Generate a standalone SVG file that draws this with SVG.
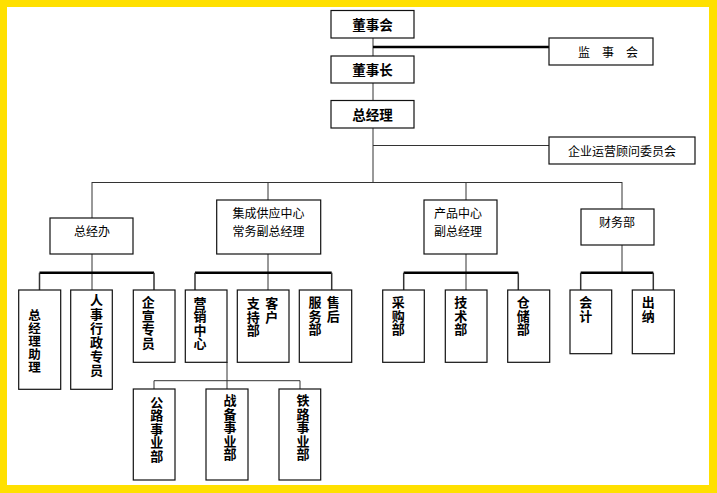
<svg xmlns="http://www.w3.org/2000/svg" width="717" height="493" viewBox="0 0 717 493">
<style>
.bx{fill:#fff;stroke:#111;stroke-width:1.2}
.t{font-family:"Liberation Sans","Noto Sans CJK SC",sans-serif;font-size:12px;fill:#000;dominant-baseline:central}
.tb{font-family:"Liberation Sans","Noto Sans CJK SC",sans-serif;font-size:13.5px;font-weight:bold;fill:#000;dominant-baseline:central;text-anchor:middle}
.v{font-family:"Liberation Sans","Noto Sans CJK SC",sans-serif;font-size:13px;font-weight:bold;fill:#000;dominant-baseline:central;text-anchor:middle}
.ln{fill:none;stroke:#333;stroke-width:1}
.th{fill:none;stroke:#000;stroke-width:2.5}
.dr{fill:none;stroke:#333;stroke-width:1.5}
</style>
<rect x="0" y="0" width="717" height="493" fill="#FFE000"/>
<rect x="7" y="7" width="702" height="478" fill="#fff"/>
<g id="connectors">
<path class="ln" d="M373 38V182"/>
<path class="th" d="M373 47H549"/>
<path class="ln" d="M373 145.5H549"/>
<path class="ln" d="M92 182.5H622"/>
<path class="ln" d="M92 182V218M268 182V200M466 182V200M622 182V209"/>
<path class="ln" d="M92 254V290M268 254V290M466 254V290M622 245V273"/>
<path class="th" d="M39.5 272.7H154M195 272.7H331.7M403.7 272.7H518.3M580.7 272.7H653.3"/>
<path class="dr" d="M39.5 272.7V290M154 272.7V290M195 272.7V290M331.7 272.7V290M403.7 272.7V290M518.3 272.7V290M580.7 272.7V290M653.3 272.7V290"/>
<path class="ln" d="M227 362V389M154 389V380.7H300V389"/>
</g>
<g id="dongshihui"><rect class="bx" x="331" y="10.5" width="83" height="27.5"/><text class="tb" x="372.5" y="25.5">董事会</text></g>
<g id="jianshihui"><rect class="bx" x="549" y="38" width="104" height="27"/><text class="t" y="52.5" text-anchor="middle"><tspan x="584">监</tspan><tspan x="608">事</tspan><tspan x="632">会</tspan></text></g>
<g id="dongshizhang"><rect class="bx" x="331" y="56" width="83" height="27"/><text class="tb" x="372.5" y="70.5">董事长</text></g>
<g id="zongjingli"><rect class="bx" x="331" y="100.5" width="83" height="27.5"/><text class="tb" x="372.5" y="115.5">总经理</text></g>
<g id="guwen"><rect class="bx" x="549" y="137" width="146" height="27"/><text class="t" x="622" y="151.7" text-anchor="middle">企业运营顾问委员会</text></g>
<g id="zongjingban"><rect class="bx" x="50" y="218" width="83" height="36"/><text class="t" x="92" y="231.7" text-anchor="middle">总经办</text></g>
<g id="jicheng"><rect class="bx" x="216.7" y="200" width="104" height="54"/><text class="t" x="268.5" y="214" text-anchor="middle">集成供应中心</text><text class="t" x="268.5" y="231.7" text-anchor="middle">常务副总经理</text></g>
<g id="chanpin"><rect class="bx" x="424" y="200" width="73" height="54"/><text class="t" x="434" y="214.3">产品中心</text><text class="t" x="434" y="232.3">副总经理</text></g>
<g id="caiwu"><rect class="bx" x="581" y="209" width="73" height="36"/><text class="t" x="617" y="222.7" text-anchor="middle">财务部</text></g>
<g id="zhuli"><rect class="bx" x="18.7" y="290" width="42" height="99.3"/><text class="v" style="font-size:12.5px"><tspan x="34.5" y="316">总</tspan><tspan x="34.5" y="329">经</tspan><tspan x="34.5" y="342">理</tspan><tspan x="34.5" y="355">助</tspan><tspan x="34.5" y="368">理</tspan></text></g>
<g id="renshi"><rect class="bx" x="70.7" y="290" width="41.6" height="99.3"/><text class="v"><tspan x="96.5" y="300">人</tspan><tspan x="96.5" y="314">事</tspan><tspan x="96.5" y="328">行</tspan><tspan x="96.5" y="342">政</tspan><tspan x="96.5" y="356">专</tspan><tspan x="96.5" y="370">员</tspan></text></g>
<g id="qixuan"><rect class="bx" x="133.3" y="290" width="41.7" height="72.3"/><text class="v"><tspan x="148.3" y="302">企</tspan><tspan x="148.3" y="315.7">宣</tspan><tspan x="148.3" y="329.4">专</tspan><tspan x="148.3" y="343">员</tspan></text></g>
<g id="yingxiao"><rect class="bx" x="185.3" y="290" width="41.7" height="72.3"/><text class="v"><tspan x="200" y="302.5">营</tspan><tspan x="200" y="316">销</tspan><tspan x="200" y="329.5">中</tspan><tspan x="200" y="343">心</tspan></text></g>
<g id="kehu"><rect class="bx" x="237.3" y="290" width="51.7" height="72.3"/><text class="v"><tspan x="271.7" y="303">客</tspan><tspan x="271.7" y="316.5">户</tspan><tspan x="253.3" y="303">支</tspan><tspan x="253.3" y="316.5">持</tspan><tspan x="253.3" y="330">部</tspan></text></g>
<g id="shouhou"><rect class="bx" x="299.3" y="290" width="52.4" height="72.3"/><text class="v"><tspan x="333.3" y="302">售</tspan><tspan x="333.3" y="315.5">后</tspan><tspan x="315" y="302">服</tspan><tspan x="315" y="315.5">务</tspan><tspan x="315" y="329">部</tspan></text></g>
<g id="gonglu"><rect class="bx" x="133.3" y="389" width="41.7" height="91"/><text class="v"><tspan x="156.7" y="401.5">公</tspan><tspan x="156.7" y="415">路</tspan><tspan x="156.7" y="428.5">事</tspan><tspan x="156.7" y="442">业</tspan><tspan x="156.7" y="455.5">部</tspan></text></g>
<g id="zhanbei"><rect class="bx" x="206" y="389" width="42" height="91"/><text class="v"><tspan x="230" y="400">战</tspan><tspan x="230" y="413.5">备</tspan><tspan x="230" y="427">事</tspan><tspan x="230" y="440.5">业</tspan><tspan x="230" y="454">部</tspan></text></g>
<g id="tielu"><rect class="bx" x="279" y="389" width="41.7" height="91"/><text class="v"><tspan x="303" y="400">铁</tspan><tspan x="303" y="413.5">路</tspan><tspan x="303" y="427">事</tspan><tspan x="303" y="440.5">业</tspan><tspan x="303" y="454">部</tspan></text></g>
<g id="caigou"><rect class="bx" x="382.7" y="290" width="41.6" height="72.3"/><text class="v"><tspan x="398.3" y="302">采</tspan><tspan x="398.3" y="315.5">购</tspan><tspan x="398.3" y="329">部</tspan></text></g>
<g id="jishu"><rect class="bx" x="445.3" y="290" width="41.7" height="72.3"/><text class="v"><tspan x="460.7" y="302">技</tspan><tspan x="460.7" y="315.5">术</tspan><tspan x="460.7" y="329">部</tspan></text></g>
<g id="cangchu"><rect class="bx" x="507.7" y="290" width="42" height="72.3"/><text class="v"><tspan x="523.3" y="302">仓</tspan><tspan x="523.3" y="315.5">储</tspan><tspan x="523.3" y="329">部</tspan></text></g>
<g id="kuaiji"><rect class="bx" x="570" y="290" width="41.7" height="63.7"/><text class="v"><tspan x="585.7" y="302">会</tspan><tspan x="585.7" y="315.5">计</tspan></text></g>
<g id="chuna"><rect class="bx" x="632.3" y="290" width="42" height="63.7"/><text class="v"><tspan x="648.3" y="302">出</tspan><tspan x="648.3" y="315.5">纳</tspan></text></g>
</svg>
